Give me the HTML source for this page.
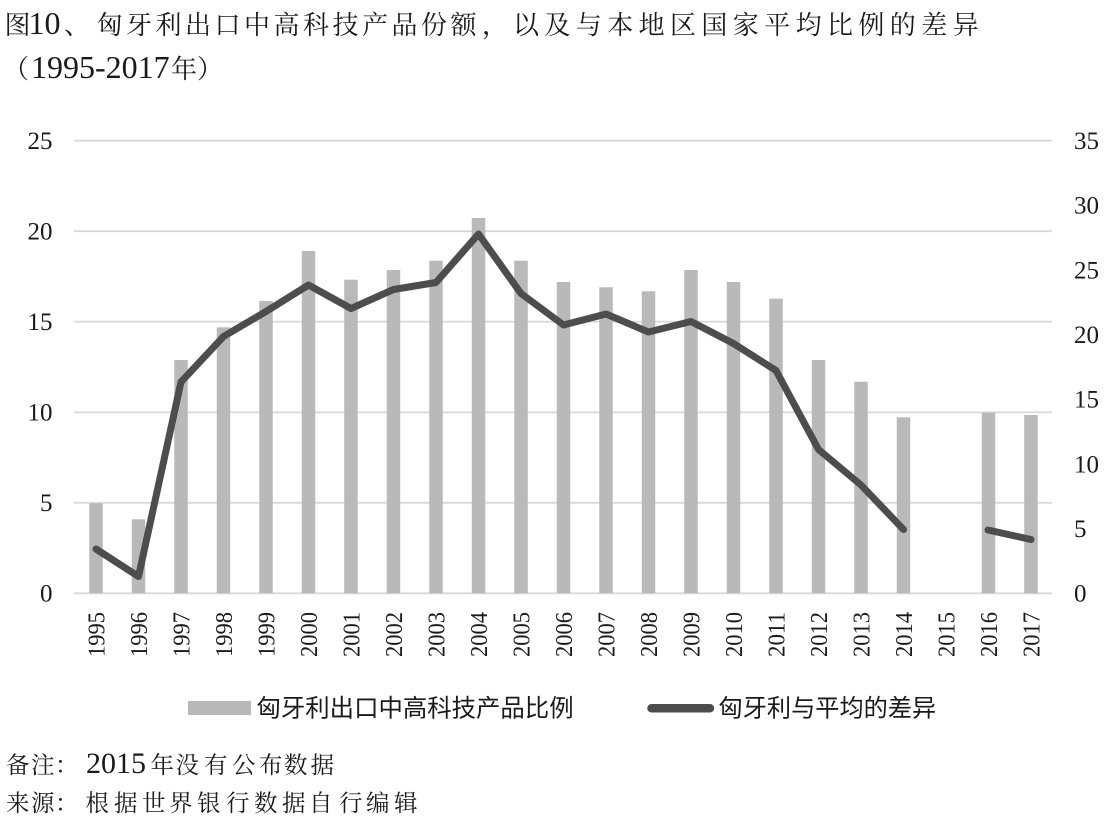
<!DOCTYPE html>
<html>
<head>
<meta charset="utf-8">
<style>
html,body{margin:0;padding:0;background:#fff;}
svg{display:block;}
</style>
</head>
<body>
<svg width="1120" height="834" viewBox="0 0 1120 834" xmlns="http://www.w3.org/2000/svg">
<rect width="1120" height="834" fill="#fff"/>

<!-- Title line 1 -->
<g font-family="'Liberation Serif', 'Noto Serif CJK SC', serif" fill="#1a1a1a">
<text y="34" font-size="26"><tspan x="4.5">图</tspan><tspan x="28.5" font-size="32">10</tspan><tspan x="64">、</tspan></text>
<text y="34" font-size="26" x="96.5 126 155.5 185 214.5 244 273.5 303 332.5 362 391.5 421 450.5">匈牙利出口中高科技产品份额</text>
<text y="34" font-size="26" x="482">，</text>
<text y="34" font-size="26" x="513 544.4 575.8 607.2 638.6 670 701.4 732.8 764.2 795.6 827 858.4 889.8 921.2 952.6">以及与本地区国家平均比例的差异</text>

<!-- Title line 2 -->
<text y="78" font-size="26"><tspan x="3">（</tspan><tspan x="31" font-size="32">1995-2017</tspan><tspan x="171">年</tspan><tspan x="197">）</tspan></text>
</g>

<!-- Gridlines -->
<g stroke="#d9d9d9" stroke-width="1.8">
<line x1="74" x2="1052" y1="140.7" y2="140.7"/>
<line x1="74" x2="1052" y1="231.2" y2="231.2"/>
<line x1="74" x2="1052" y1="321.7" y2="321.7"/>
<line x1="74" x2="1052" y1="412.3" y2="412.3"/>
<line x1="74" x2="1052" y1="502.8" y2="502.8"/>
<line x1="74" x2="1052" y1="593.3" y2="593.3"/>
</g>

<!-- Left axis labels -->
<g font-family="'Liberation Serif', serif" fill="#1a1a1a" font-size="25" text-anchor="end">
<text x="52.5" y="149">25</text>
<text x="52.5" y="239.5">20</text>
<text x="52.5" y="330">15</text>
<text x="52.5" y="420.6">10</text>
<text x="52.5" y="511.1">5</text>
<text x="52.5" y="601.6">0</text>
</g>

<!-- Right axis labels -->
<g font-family="'Liberation Serif', serif" fill="#1a1a1a" font-size="25" text-anchor="start">
<text x="1074" y="149">35</text>
<text x="1074" y="213.6">30</text>
<text x="1074" y="278.3">25</text>
<text x="1074" y="342.9">20</text>
<text x="1074" y="407.6">15</text>
<text x="1074" y="472.3">10</text>
<text x="1074" y="536.9">5</text>
<text x="1074" y="601.6">0</text>
</g>

<!-- Bars -->
<g fill="#b9b9b9">
<rect x="89.25" y="503.3" width="13.5" height="90"/>
<rect x="131.75" y="519.3" width="13.5" height="74"/>
<rect x="174.25" y="360" width="13.5" height="233.3"/>
<rect x="216.75" y="327.3" width="13.5" height="266"/>
<rect x="259.25" y="301" width="13.5" height="292.3"/>
<rect x="301.75" y="251" width="13.5" height="342.3"/>
<rect x="344.25" y="279.7" width="13.5" height="313.6"/>
<rect x="386.75" y="270" width="13.5" height="323.3"/>
<rect x="429.25" y="260.7" width="13.5" height="332.6"/>
<rect x="471.75" y="218" width="13.5" height="375.3"/>
<rect x="514.25" y="260.7" width="13.5" height="332.6"/>
<rect x="556.75" y="282" width="13.5" height="311.3"/>
<rect x="599.25" y="287.3" width="13.5" height="306"/>
<rect x="641.75" y="291.3" width="13.5" height="302"/>
<rect x="684.25" y="270" width="13.5" height="323.3"/>
<rect x="726.75" y="282" width="13.5" height="311.3"/>
<rect x="769.25" y="298.7" width="13.5" height="294.6"/>
<rect x="811.75" y="360" width="13.5" height="233.3"/>
<rect x="854.25" y="381.7" width="13.5" height="211.6"/>
<rect x="896.75" y="417.3" width="13.5" height="176"/>
<rect x="981.75" y="412.7" width="13.5" height="180.6"/>
<rect x="1024.25" y="415" width="13.5" height="178.3"/>
</g>

<!-- Line series -->
<g fill="none" stroke="#4d4d4d" stroke-width="7" stroke-linejoin="round" stroke-linecap="round">
<polyline points="96,549 138.5,576.5 181,382 223.5,336.5 266,311.5 308.5,285 351,308.5 393.5,289.5 436,282.5 478.5,234 521,293.5 563.5,325 606,314 648.5,332 691,321.5 733.5,343.5 776,370.5 818.5,449.5 861,485 903.5,529.5"/>
<polyline points="988,530 1031,539.5"/>
</g>

<!-- Year labels -->
<g font-family="'Liberation Serif', serif" fill="#1a1a1a" font-size="24" text-anchor="end">
<text transform="translate(104.3,612) rotate(-90)" textLength="45" lengthAdjust="spacingAndGlyphs">1995</text>
<text transform="translate(146.8,612) rotate(-90)" textLength="45" lengthAdjust="spacingAndGlyphs">1996</text>
<text transform="translate(189.3,612) rotate(-90)" textLength="45" lengthAdjust="spacingAndGlyphs">1997</text>
<text transform="translate(231.8,612) rotate(-90)" textLength="45" lengthAdjust="spacingAndGlyphs">1998</text>
<text transform="translate(274.3,612) rotate(-90)" textLength="45" lengthAdjust="spacingAndGlyphs">1999</text>
<text transform="translate(316.8,612) rotate(-90)" textLength="45" lengthAdjust="spacingAndGlyphs">2000</text>
<text transform="translate(359.3,612) rotate(-90)" textLength="45" lengthAdjust="spacingAndGlyphs">2001</text>
<text transform="translate(401.8,612) rotate(-90)" textLength="45" lengthAdjust="spacingAndGlyphs">2002</text>
<text transform="translate(444.3,612) rotate(-90)" textLength="45" lengthAdjust="spacingAndGlyphs">2003</text>
<text transform="translate(486.8,612) rotate(-90)" textLength="45" lengthAdjust="spacingAndGlyphs">2004</text>
<text transform="translate(529.3,612) rotate(-90)" textLength="45" lengthAdjust="spacingAndGlyphs">2005</text>
<text transform="translate(571.8,612) rotate(-90)" textLength="45" lengthAdjust="spacingAndGlyphs">2006</text>
<text transform="translate(614.3,612) rotate(-90)" textLength="45" lengthAdjust="spacingAndGlyphs">2007</text>
<text transform="translate(656.8,612) rotate(-90)" textLength="45" lengthAdjust="spacingAndGlyphs">2008</text>
<text transform="translate(699.3,612) rotate(-90)" textLength="45" lengthAdjust="spacingAndGlyphs">2009</text>
<text transform="translate(741.8,612) rotate(-90)" textLength="45" lengthAdjust="spacingAndGlyphs">2010</text>
<text transform="translate(784.3,612) rotate(-90)" textLength="45" lengthAdjust="spacingAndGlyphs">2011</text>
<text transform="translate(826.8,612) rotate(-90)" textLength="45" lengthAdjust="spacingAndGlyphs">2012</text>
<text transform="translate(869.3,612) rotate(-90)" textLength="45" lengthAdjust="spacingAndGlyphs">2013</text>
<text transform="translate(911.8,612) rotate(-90)" textLength="45" lengthAdjust="spacingAndGlyphs">2014</text>
<text transform="translate(954.3,612) rotate(-90)" textLength="45" lengthAdjust="spacingAndGlyphs">2015</text>
<text transform="translate(996.8,612) rotate(-90)" textLength="45" lengthAdjust="spacingAndGlyphs">2016</text>
<text transform="translate(1039.3,612) rotate(-90)" textLength="45" lengthAdjust="spacingAndGlyphs">2017</text>
</g>

<!-- Legend -->
<rect x="188" y="701" width="63" height="14" fill="#b9b9b9"/>
<text font-family="'Liberation Sans', 'Noto Sans CJK SC', sans-serif" fill="#1a1a1a" x="256.5" y="716.5" font-size="24.4">匈牙利出口中高科技产品比例</text>
<line x1="651.5" y1="708.3" x2="710" y2="708.3" stroke="#4d4d4d" stroke-width="8.5" stroke-linecap="round"/>
<text font-family="'Liberation Sans', 'Noto Sans CJK SC', sans-serif" fill="#1a1a1a" x="718.5" y="716.5" font-size="24.2">匈牙利与平均的差异</text>

<!-- Footer -->
<g font-family="'Liberation Serif', 'Noto Serif CJK SC', serif" fill="#1a1a1a">
<text y="773" font-size="23.5" x="6 31 55">备注：</text>
<text y="773" font-size="30" x="86">2015</text>
<text y="773" font-size="23.5" x="150.5 175.5 204 232 259 284 310.5">年没有公布数据</text>
<text y="811" font-size="23.5" x="6 31 55">来源：</text>
<text y="811" font-size="23.5" x="85.5 114 142 169 197 226 254 282 309 339 366 394">根据世界银行数据自行编辑</text>
</g>
</svg>
</body>
</html>
